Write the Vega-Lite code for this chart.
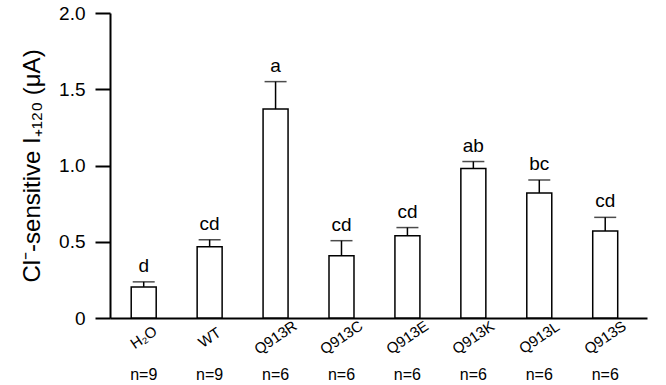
{
  "$schema": "https://vega.github.io/schema/vega-lite/v6.json",
  "width": 537,
  "height": 305,
  "autosize": {"type": "none"},
  "padding": {"left": 110, "top": 13, "right": 19, "bottom": 67},
  "background": "white",
  "config": {
    "view": {"stroke": null},
    "font": "Liberation Sans",
    "axis": {
      "domainColor": "black",
      "tickColor": "black",
      "labelColor": "black",
      "titleColor": "black",
      "labelFont": "Liberation Sans",
      "titleFont": "Liberation Sans",
      "grid": false
    }
  },
  "data": {
    "values": [
      {"group": "H₂O", "mean": 0.204, "upper": 0.237, "letter": "d", "n": "n=9"},
      {"group": "WT", "mean": 0.467, "upper": 0.513, "letter": "cd", "n": "n=9"},
      {"group": "Q913R", "mean": 1.37, "upper": 1.55, "letter": "a", "n": "n=6"},
      {"group": "Q913C", "mean": 0.408, "upper": 0.507, "letter": "cd", "n": "n=6"},
      {"group": "Q913E", "mean": 0.54, "upper": 0.593, "letter": "cd", "n": "n=6"},
      {"group": "Q913K", "mean": 0.98, "upper": 1.026, "letter": "ab", "n": "n=6"},
      {"group": "Q913L", "mean": 0.82, "upper": 0.905, "letter": "bc", "n": "n=6"},
      {"group": "Q913S", "mean": 0.57, "upper": 0.66, "letter": "cd", "n": "n=6"}
    ]
  },
  "encoding": {
    "x": {
      "field": "group",
      "type": "nominal",
      "sort": null,
      "scale": {"paddingInner": 0.621, "paddingOuter": 0.383, "align": 0.42},
      "axis": {
        "title": null,
        "ticks": false,
        "domainWidth": 2,
        "labelAngle": -34,
        "labelAlign": "center",
        "labelBaseline": "middle",
        "labelPadding": 19,
        "labelFontSize": 15
      }
    }
  },
  "layer": [
    {
      "mark": {"type": "bar", "fill": "white", "stroke": "black", "strokeWidth": 1.5},
      "encoding": {
        "y": {
          "field": "mean",
          "type": "quantitative",
          "title": "Cl⁻-sensitive I₊₁₂₀ (μA)",
          "scale": {"domain": [0, 2], "nice": false, "zero": true},
          "axis": {
            "title": "Cl⁻-sensitive I₊₁₂₀ (μA)",
            "titleFontSize": 24,
            "titleFontWeight": "normal",
            "titlePadding": 14,
            "values": [0, 0.5, 1, 1.5, 2],
            "labelExpr": "datum.value == 0 ? '0' : format(datum.value, '.1f')",
            "labelFontSize": 19,
            "labelPadding": 10,
            "tickSize": 15,
            "tickWidth": 2,
            "domainWidth": 2
          }
        }
      }
    },
    {
      "mark": {"type": "rule", "color": "black", "strokeWidth": 1.5},
      "encoding": {
        "y": {"field": "mean", "type": "quantitative", "title": "Cl⁻-sensitive I₊₁₂₀ (μA)"},
        "y2": {"field": "upper"}
      }
    },
    {
      "mark": {"type": "tick", "color": "black", "thickness": 1.5, "size": 22, "orient": "horizontal"},
      "encoding": {
        "y": {"field": "upper", "type": "quantitative", "title": "Cl⁻-sensitive I₊₁₂₀ (μA)"}
      }
    },
    {
      "mark": {"type": "text", "baseline": "bottom", "dy": -6, "fontSize": 19, "color": "black"},
      "encoding": {
        "y": {"field": "upper", "type": "quantitative", "title": "Cl⁻-sensitive I₊₁₂₀ (μA)"},
        "text": {"field": "letter"}
      }
    },
    {
      "mark": {"type": "text", "baseline": "middle", "fontSize": 16, "color": "black"},
      "encoding": {
        "y": {"datum": -0.374, "type": "quantitative", "title": "Cl⁻-sensitive I₊₁₂₀ (μA)"},
        "text": {"field": "n"}
      }
    }
  ]
}
